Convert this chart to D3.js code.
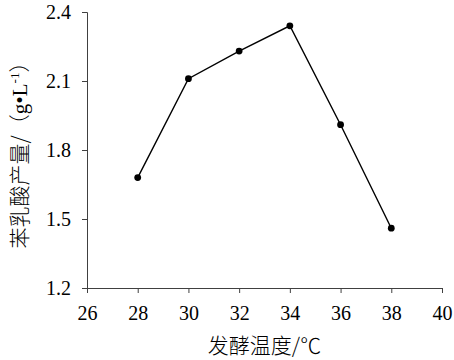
<!DOCTYPE html>
<html>
<head>
<meta charset="utf-8">
<script src="https://cdn.jsdelivr.net/npm/d3@7"></script>
<style>
  body { margin: 0; background: #fff; }
  svg { display: block; }
  .tick text, .serif { font-family: "Liberation Serif", "DejaVu Serif", serif; }
  .cjk { font-family: "Noto Sans CJK SC", sans-serif; font-weight: 300; }
</style>
</head>
<body>
<div id="chart"></div>
<script>
// data
var temps = [28, 30, 32, 34, 36, 38];
var yields = [1.68, 2.11, 2.23, 2.34, 1.91, 1.46];
var xTicks = [26, 28, 30, 32, 34, 36, 38, 40];
var yTicks = [1.2, 1.5, 1.8, 2.1, 2.4];

var margin = {top: 12, right: 12, bottom: 72, left: 87},
    width = 454 - margin.left - margin.right,
    height = 360 - margin.top - margin.bottom;

var svg = d3.select("#chart")
  .append("svg")
    .attr("width", 454)
    .attr("height", 360)
  .append("g")
    .attr("transform", "translate(" + margin.left + "," + margin.top + ")");

var x = d3.scaleLinear().domain([26, 40]).range([0, width]);
var y = d3.scaleLinear().domain([1.2, 2.4]).range([height, 0]);

var axisColor = "#404040";

// x axis
var gx = svg.append("g")
    .attr("transform", "translate(0," + height + ")")
    .call(d3.axisBottom(x).tickValues(xTicks).tickFormat(d3.format("d")).tickSize(5).tickPadding(13));
// y axis
var gy = svg.append("g")
    .call(d3.axisLeft(y).tickValues(yTicks).tickFormat(d3.format(".1f")).tickSize(5).tickPadding(11));

[gx, gy].forEach(function(g) {
    g.attr("font-family", "Liberation Serif").attr("font-size", 20);
    g.select(".domain").attr("stroke", axisColor);
    g.selectAll(".tick line").attr("stroke", axisColor);
    g.selectAll("text")
        .attr("fill", "#000")
        .attr("font-family", "Liberation Serif")
        .style("font-family", "Liberation Serif")
        .style("font-size", "20px");
});

// line + dots
var pts = temps.map(function(t, i) { return {t: t, v: yields[i]}; });

svg.append("path")
    .datum(pts)
    .attr("fill", "none")
    .attr("stroke", "#000")
    .attr("stroke-width", 1.4)
    .attr("d", d3.line().x(function(d) { return x(d.t); }).y(function(d) { return y(d.v); }));

svg.selectAll("circle")
    .data(pts)
    .enter().append("circle")
    .attr("cx", function(d) { return x(d.t); })
    .attr("cy", function(d) { return y(d.v); })
    .attr("r", 3.4)
    .attr("fill", "#000");

// x title
svg.append("text")
    .attr("class", "cjk")
    .attr("x", width / 2)
    .attr("y", height + 65)
    .attr("text-anchor", "middle")
    .style("font-size", "21px")
    .text("发酵温度/℃");

// y title
var yt = svg.append("text")
    .attr("class", "cjk")
    .attr("transform", "translate(" + (-margin.left + 27) + "," + (height / 2) + ") rotate(-90)")
    .attr("text-anchor", "middle")
    .style("font-size", "21px");
yt.append("tspan").text("苯乳酸产量/（");
yt.append("tspan").attr("class", "serif").style("font-family", "Liberation Serif").text("g•L");
yt.append("tspan").attr("class", "serif").style("font-family", "Liberation Serif").style("font-size", "13px").attr("dy", -8).text("-1");
yt.append("tspan").attr("dy", 8).text("）");
</script>
</body>
</html>
